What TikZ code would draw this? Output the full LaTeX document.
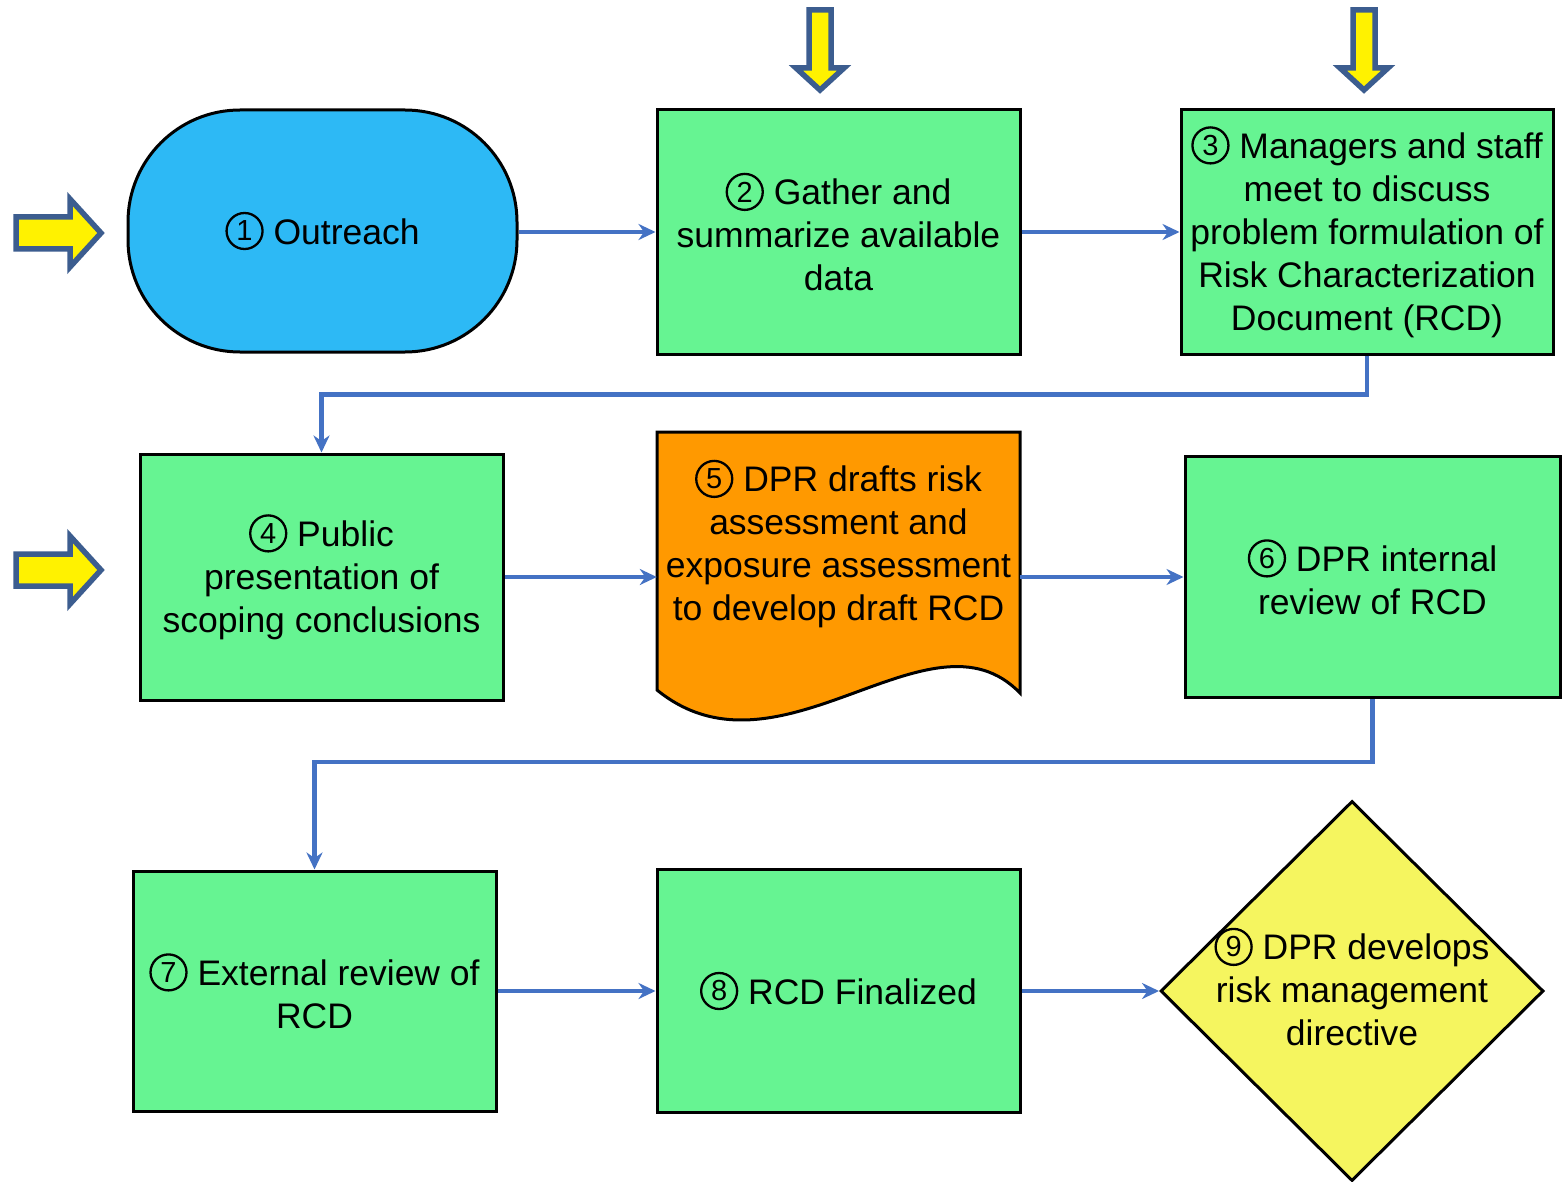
\documentclass[tikz,border=0pt]{standalone}
\usepackage{fontspec}
\setmainfont{Liberation Sans}
\usetikzlibrary{shapes.geometric,arrows.meta}

\definecolor{stagegreen}{RGB}{102,244,146}
\definecolor{outreachblue}{RGB}{45,185,245}
\definecolor{draftorange}{RGB}{255,153,0}
\definecolor{decideyellow}{RGB}{245,245,95}
\definecolor{flowblue}{RGB}{68,114,196}
\definecolor{arrowedge}{RGB}{60,93,143}

% circled step number
\newcommand{\stepno}[1]{\tikz[baseline=-13pt]\node[circle, draw=black, line width=2.3pt, inner sep=0pt,
        minimum size=36pt, font=\fontsize{29}{29}\selectfont] {#1};}

\begin{document}
\begin{tikzpicture}[
                x = 1pt,
                y = -1pt,
                > = {Stealth[length=17pt,width=16pt]},
                font = \fontsize{35.5}{43}\selectfont
                ]

                \tikzstyle{stage}=[
                        draw = black,
                        line width = 3pt,
                        fill = stagegreen,
                        minimum width = 363pt,
                        minimum height = 244pt,
                        inner sep = 0pt,
                        align = center
                ]
                \tikzstyle{flow}=[
                        ->,
                        draw = flowblue,
                        line width = 4.5pt
                ]
                \tikzstyle{inarrow}=[
                        draw = arrowedge,
                        fill = yellow,
                        line width = 5.5pt
                ]

                \useasboundingbox[fill=white] (0,0) rectangle (1562,1182);

                % incoming arrows
                \draw[inarrow] (16,217) -- (70,217) -- (70,199) -- (101,233) -- (70,267) -- (70,249) -- (16,249) -- cycle;
                \draw[inarrow] (16,554) -- (70,554) -- (70,536) -- (101,570) -- (70,604) -- (70,586) -- (16,586) -- cycle;
                \draw[inarrow] (809,10) -- (831,10) -- (831,68) -- (844,68) -- (820,90) -- (796,68) -- (809,68) -- cycle;
                \draw[inarrow] (1353,10) -- (1375,10) -- (1375,68) -- (1388,68) -- (1364,90) -- (1340,68) -- (1353,68) -- cycle;

                % draft document
                \draw[line width=3pt, fill=draftorange] (657,432) -- (1020,432) -- (1020,693)
                        .. controls (930,600) and (780,790) .. (657,690) -- cycle;

                \node[draw=black, line width=3pt, fill=outreachblue, rounded corners=112pt,
                      minimum width=389pt, minimum height=242pt] (n1) at (322.5,231) {\stepno{1} Outreach};
                \node[stage] (n2) at (838.5,232) {\stepno{2} Gather and\\summarize available\\data};
                \node[stage, minimum width=372pt] (n3) at (1367,232) {\stepno{3} Managers and staff\\meet to discuss\\problem formulation of\\Risk Characterization\\Document (RCD)};
                \node[stage, minimum height=246pt] (n4) at (321.5,577) {\stepno{4} Public\\presentation of\\scoping conclusions};
                \node[minimum width=363pt, inner sep=0pt, align=center] (n5) at (838.5,544) {\stepno{5} DPR drafts risk\\assessment and\\exposure assessment\\to develop draft RCD};
                \node[stage, minimum width=375pt, minimum height=241pt] (n6) at (1372.5,577) {\stepno{6} DPR internal\\review of RCD};
                \node[stage, minimum height=240pt] (n7) at (314.5,991) {\stepno{7} External review of\\RCD};
                \node[stage, minimum height=243pt] (n8) at (838.5,991) {\stepno{8} RCD Finalized};
                \node[diamond, draw=black, line width=3pt, fill=decideyellow, aspect=1,
                      minimum width=383pt, minimum height=380pt, inner sep=0pt] (n9) at (1352,991) {};
                \node[align=center] (t9) at (1352,987) {\stepno{9} DPR develops\\risk management\\directive};

                \draw[flow] (n1.east |- 0,232) -- (n2.west |- 0,232);
                \draw[flow] (n2.east |- 0,232) -- (n3.west |- 0,232);
                \draw[flow] (n3.south) -- ++(0,39) -| (n4.north);
                \draw[flow] (n4.east |- 0,577) -- (n5.west |- 0,577);
                \draw[flow] (n5.east |- 0,577) -- (n6.west |- 0,577);
                \draw[flow] (n6.south) -- ++(0,63) -| (n7.north);
                \draw[flow] (n7.east |- 0,991) -- (n8.west |- 0,991);
                \draw[flow] (n8.east |- 0,991) -- (n9.west);
\end{tikzpicture}
\end{document}
